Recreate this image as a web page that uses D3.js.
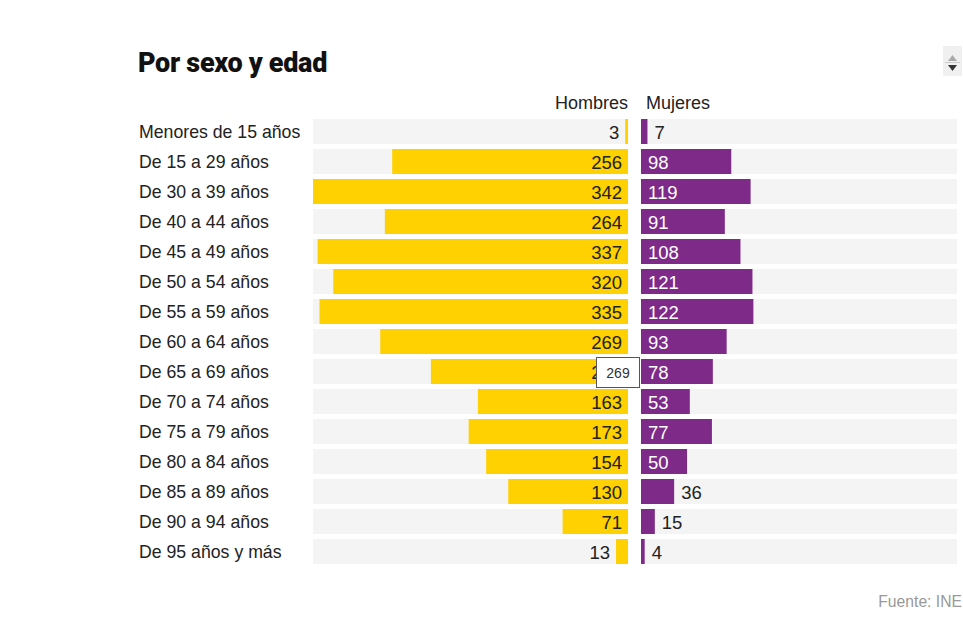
<!DOCTYPE html>
<html><head><meta charset="utf-8">
<script src="https://cdn.jsdelivr.net/npm/d3@7"></script>
<style>
body{margin:0;background:#fff;font-family:"Liberation Sans",Arial,sans-serif;}
</style></head>
<body>
<svg id="c" width="963" height="633"></svg>
<script>
const categories = ["Menores de 15 años","De 15 a 29 años","De 30 a 39 años","De 40 a 44 años","De 45 a 49 años","De 50 a 54 años","De 55 a 59 años","De 60 a 64 años","De 65 a 69 años","De 70 a 74 años","De 75 a 79 años","De 80 a 84 años","De 85 a 89 años","De 90 a 94 años","De 95 años y más"];
const hombres = [3,256,342,264,337,320,335,269,214,163,173,154,130,71,13];
const mujeres = [7,98,119,91,108,121,122,93,78,53,77,50,36,15,4];
const seriesNames = ["Hombres","Mujeres"];
const tooltipValue = 269;

const svg = d3.select("#c");
const yellow = "#FFD100", purple = "#7E2A88", bg = "#f4f4f4", ink = "#222";

svg.append("text").attr("x",138).attr("y",72).text("Por sexo y edad")
  .style("font-family","Roboto, 'Liberation Sans', sans-serif").style("font-weight",900).style("font-size","27px").attr("fill","#111").style("letter-spacing","-0.3px");

// scroll arrows
const sc = svg.append("g");
sc.append("rect").attr("x",943).attr("y",46).attr("width",19).attr("height",30).attr("fill","#f0f0f0");
sc.append("path").attr("d","M948,61 L957,61 L952.5,55 Z").attr("fill","#aaa");
sc.append("line").attr("x1",945).attr("x2",960).attr("y1",62.5).attr("y2",62.5).attr("stroke","#ccc");
sc.append("path").attr("d","M948,65 L957,65 L952.5,71 Z").attr("fill","#333");

const y = d3.scaleBand().domain(categories).range([119,564]).paddingInner(5/30).paddingOuter(0);
const maxV = 342;
const xL = d3.scaleLinear().domain([0,maxV]).range([628,313]);
const xR = d3.scaleLinear().domain([0,maxV]).range([641,956]);

const fontMain = "'Liberation Sans', Arial, sans-serif";

svg.append("text").attr("x",628).attr("y",109).attr("text-anchor","end").text(seriesNames[0])
  .style("font-family",fontMain).style("font-size","18px").attr("fill",ink);
svg.append("text").attr("x",646).attr("y",109).text(seriesNames[1])
  .style("font-family",fontMain).style("font-size","18px").attr("fill",ink);

const rows = svg.selectAll("g.row").data(categories).join("g").attr("class","row");
rows.each(function(c,i){
  const g = d3.select(this);
  const top = y(c);
  const bh = y.bandwidth();
  g.append("text").attr("x",139).attr("y",top+19).text(c)
    .style("font-family",fontMain).style("font-size","17.7px").attr("fill",ink);
  g.append("rect").attr("x",xL(maxV)).attr("y",top).attr("width",xL(0)-xL(maxV)).attr("height",bh).attr("fill",bg);
  g.append("rect").attr("x",xR(0)).attr("y",top).attr("width",xR(maxV)-xR(0)+1).attr("height",bh).attr("fill",bg);
  const h = hombres[i], m = mujeres[i];
  g.append("rect").attr("x",xL(h)).attr("y",top).attr("width",xL(0)-xL(h)).attr("height",bh).attr("fill",yellow);
  g.append("rect").attr("x",xR(0)).attr("y",top).attr("width",xR(m)-xR(0)).attr("height",bh).attr("fill",purple);
  const hIn = h > 40;
  g.append("text").attr("x", hIn ? xL(0)-6 : xL(h)-6).attr("y",top+20).attr("text-anchor","end").text(h)
    .style("font-family",fontMain).style("font-size","18.5px").attr("fill",ink);
  const mIn = m > 40;
  g.append("text").attr("x", mIn ? xR(0)+7 : xR(m)+7).attr("y",top+20).text(m)
    .style("font-family",fontMain).style("font-size","18.5px").attr("fill", mIn ? "#fff" : ink);
});

// tooltip
const tt = svg.append("g");
tt.append("rect").attr("x",596.5).attr("y",357.5).attr("width",43).attr("height",30).attr("fill","#fff").attr("stroke","#555").attr("stroke-width",1);
tt.append("text").attr("x",618).attr("y",378).attr("text-anchor","middle").text(tooltipValue)
  .style("font-family",fontMain).style("font-size","14px").attr("fill","#333");

svg.append("text").attr("x",962).attr("y",607).attr("text-anchor","end").text("Fuente: INE")
  .style("font-family",fontMain).style("font-size","15.7px").attr("fill","#999");
</script>
</body></html>
